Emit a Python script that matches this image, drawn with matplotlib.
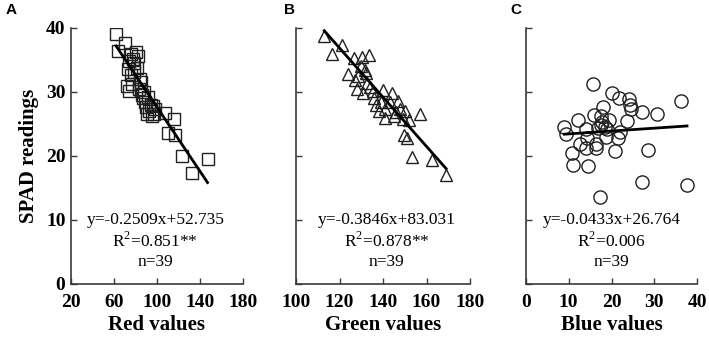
import numpy as np
import matplotlib
matplotlib.use("Agg")
import matplotlib.pyplot as plt

# panel A: red values vs SPAD
red_x = [62, 70, 64, 76, 80, 78, 82, 74, 79, 81, 73, 79, 76, 72, 77, 74, 85, 83, 88, 86,
         92, 89, 94, 90, 96, 93, 98, 91, 95, 97, 107, 116, 110, 117, 123, 147, 133, 84, 87]
red_y = [39.0, 37.6, 36.4, 36.0, 36.2, 35.2, 35.6, 34.8, 34.5, 33.8, 33.6, 33.2, 32.6, 31.0,
         31.2, 30.2, 31.6, 30.5, 30.0, 29.5, 29.2, 28.4, 28.0, 27.6, 27.8, 27.0, 27.3, 26.5,
         26.2, 26.6, 26.7, 25.8, 23.6, 23.3, 20.0, 19.5, 17.3, 32.0, 29.0]

# panel B: green values vs SPAD
green_x = [113, 121, 116.5, 126.5, 130.5, 133.5, 130, 131.5, 132, 124, 128.5, 132.5, 128, 131,
           134, 135.5, 140, 144, 136, 139, 143, 147, 141, 148, 141, 145, 149, 152, 150, 157,
           149.5, 151, 153.5, 162.5, 169, 127, 137, 146, 138]
green_y = [38.8, 37.3, 36.0, 35.3, 35.5, 35.8, 34.0, 33.4, 33.0, 32.8, 32.5, 31.4, 30.4, 29.8,
           30.8, 30.2, 30.3, 29.8, 29.0, 28.4, 28.5, 28.6, 27.4, 27.4, 26.0, 26.3, 25.8, 25.6,
           27.0, 26.5, 23.3, 22.8, 19.8, 19.3, 17.0, 31.8, 28.0, 26.8, 27.0]

# panel C: blue values vs SPAD
blue_x = [15.7, 20.0, 21.7, 24.1, 24.2, 24.5, 36.3, 27.1, 30.7, 18.1, 15.9, 17.6, 17.8, 16.8,
          18.5, 19.0, 12.2, 9.0, 9.5, 14.0, 23.5, 21.9, 21.5, 18.8, 14.4, 12.7, 14.0, 16.3,
          16.3, 10.7, 20.9, 28.4, 11.1, 14.6, 27.0, 37.6, 17.4, 17.5, 19.5]
blue_y = [31.2, 29.9, 29.1, 28.9, 28.0, 27.3, 28.6, 26.9, 26.5, 27.7, 26.4, 26.3, 25.3, 24.4,
          24.6, 24.2, 25.6, 24.6, 23.5, 24.2, 25.4, 23.8, 22.8, 23.0, 22.8, 21.8, 21.3, 21.9,
          21.3, 20.5, 20.8, 20.9, 18.6, 18.5, 15.9, 15.4, 13.6, 24.8, 25.6]

# fitted lines as drawn in the figure
fit_slope = [-0.2509, -0.3846, 0.045]
fit_intercept = [52.735, 83.031, 23.0]

panel_letters = ["A", "B", "C"]
x_labels = ["Red values", "Green values", "Blue values"]
x_limits = [(20, 180), (100, 180), (0, 40)]
x_ticks = [[20, 60, 100, 140, 180], [100, 120, 140, 160, 180], [0, 10, 20, 30, 40]]
y_ticks = [0, 10, 20, 30, 40]
equations = ["y=-0.2509x+52.735", "y=-0.3846x+83.031", "y=-0.0433x+26.764"]
r2_texts = [r"R$^2$=0.851**", r"R$^2$=0.878**", r"R$^2$=0.006"]
n_text = "n=39"
markers = ["s", "^", "o"]

xs = [red_x, green_x, blue_x]
ys = [red_y, green_y, blue_y]

plt.rcParams['font.family'] = ['Liberation Serif', 'DejaVu Serif']
plt.rcParams['mathtext.fontset'] = 'custom'
plt.rcParams['mathtext.rm'] = 'Liberation Serif'

fig = plt.figure(figsize=(7.09, 3.39), dpi=100)

lefts = [71 / 709, 296 / 709, 525.7 / 709]
widths = [172 / 709, 174 / 709, 171.6 / 709]
text_x = [0.49, 0.52, 0.50]
letter_x = [6 / 709, 284 / 709, 510 / 709]
spine_col = '#3a3a3a'

for i in range(3):
    ax = fig.add_axes([lefts[i], 55 / 339, widths[i], 256 / 339])
    ax.plot(xs[i], ys[i], linestyle='none', marker=markers[i], markersize=9 if i < 2 else 9.5,
            markerfacecolor='none', markeredgecolor='#202020', markeredgewidth=1.0)
    lx = np.array([min(xs[i]), max(xs[i])])
    ax.plot(lx, fit_slope[i] * lx + fit_intercept[i], color='black', linewidth=2.0)

    ax.set_xlim(*x_limits[i])
    ax.set_ylim(0, 40)
    ax.set_xticks(x_ticks[i])
    ax.set_yticks(y_ticks)
    if i > 0:
        ax.set_yticklabels([])
    ax.tick_params(direction='in', length=4, width=1, color=spine_col, labelsize=14)
    ax.tick_params(axis='x', pad=7)
    ax.tick_params(axis='y', pad=4)
    for lab in ax.get_xticklabels() + ax.get_yticklabels():
        lab.set_fontweight('bold')
    for s in ['top', 'right']:
        ax.spines[s].set_visible(False)
    for s in ['left', 'bottom']:
        ax.spines[s].set_color(spine_col)
        ax.spines[s].set_linewidth(1.2)

    ax.set_xlabel(x_labels[i], fontsize=15, fontweight='bold', labelpad=3)
    if i == 0:
        ax.set_ylabel("SPAD readings", fontsize=15, fontweight='bold', labelpad=5)

    ax.text(text_x[i], 0.25, equations[i], transform=ax.transAxes, ha='center', va='center', fontsize=12.5)
    ax.text(text_x[i], 0.168, r2_texts[i], transform=ax.transAxes, ha='center', va='center', fontsize=12.5)
    ax.text(text_x[i], 0.086, n_text, transform=ax.transAxes, ha='center', va='center', fontsize=12.5)

    fig.text(letter_x[i], 1 - 10 / 339, panel_letters[i], fontsize=11, fontweight='bold',
             family='Liberation Sans', ha='left', va='center')

fig.savefig("out.png", dpi=100)
